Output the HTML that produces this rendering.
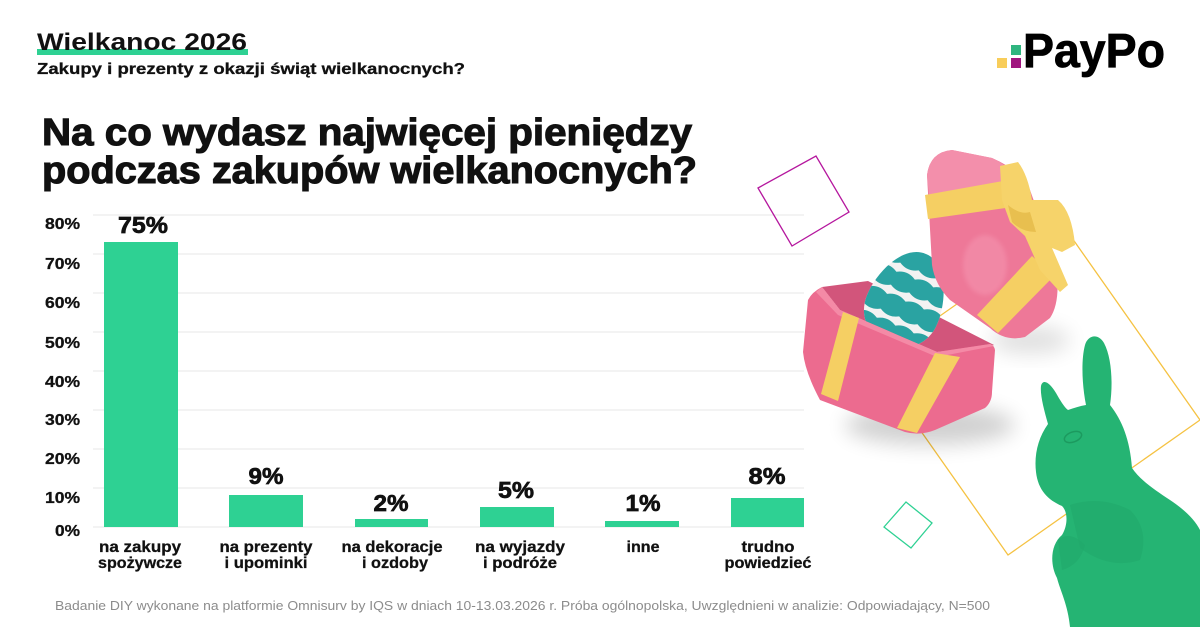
<!DOCTYPE html>
<html>
<head>
<meta charset="utf-8">
<style>
  html,body{margin:0;padding:0;background:#fff;}
  svg{display:block;}
  text{font-family:"Liberation Sans", sans-serif;}
</style>
</head>
<body>
<svg width="1200" height="627" viewBox="0 0 1200 627" xmlns="http://www.w3.org/2000/svg">
  <defs>
    <filter id="blur" x="-50%" y="-50%" width="200%" height="200%"><feGaussianBlur stdDeviation="10"/></filter>
    <filter id="blur2" x="-50%" y="-50%" width="200%" height="200%"><feGaussianBlur stdDeviation="2"/></filter>
    <clipPath id="eggclip"><path d="M0,-48 C24,-48 38,-12 38,12 C38,36 20,50 0,50 C-20,50 -38,36 -38,12 C-38,-12 -24,-48 0,-48 Z"/></clipPath>
  </defs>
  <rect width="1200" height="627" fill="#fff"/>

  <!-- Header -->
  <rect x="37" y="49" width="211" height="6" fill="#2ed193"/>
  <text x="37" y="50" font-size="24" font-weight="bold" fill="#111" textLength="210" lengthAdjust="spacingAndGlyphs">Wielkanoc 2026</text>
  <text x="37" y="74" font-size="16" font-weight="bold" fill="#111" stroke="#111" stroke-width="0.3" textLength="428" lengthAdjust="spacingAndGlyphs">Zakupy i prezenty z okazji świąt wielkanocnych?</text>

  <g font-size="38" font-weight="bold" fill="#111" stroke="#111" stroke-width="1.1">
    <text x="42" y="145" textLength="650" lengthAdjust="spacingAndGlyphs">Na co wydasz najwięcej pieniędzy</text>
    <text x="42" y="183" textLength="655" lengthAdjust="spacingAndGlyphs">podczas zakupów wielkanocnych?</text>
  </g>

  <!-- Logo -->
  <rect x="1011" y="45" width="10" height="10" fill="#2fb57f"/>
  <rect x="997" y="58" width="10" height="10" fill="#f8cd5a"/>
  <rect x="1011" y="58" width="10" height="10" fill="#a0157f"/>
  <text x="1023" y="67" font-size="48" font-weight="bold" fill="#000" stroke="#000" stroke-width="0.8" textLength="142" lengthAdjust="spacingAndGlyphs">PayPo</text>

  <!-- Gridlines -->
  <g stroke="#ececec" stroke-width="1.2">
    <line x1="93" y1="215" x2="804" y2="215"/>
    <line x1="93" y1="254" x2="804" y2="254"/>
    <line x1="93" y1="293" x2="804" y2="293"/>
    <line x1="93" y1="332" x2="804" y2="332"/>
    <line x1="93" y1="371" x2="804" y2="371"/>
    <line x1="93" y1="410" x2="804" y2="410"/>
    <line x1="93" y1="449" x2="804" y2="449"/>
    <line x1="93" y1="488" x2="804" y2="488"/>
    <line x1="93" y1="527" x2="804" y2="527"/>
  </g>

  <!-- Y tick labels -->
  <g font-size="16" font-weight="bold" fill="#111" stroke="#111" stroke-width="0.3" text-anchor="end">
    <text x="80" y="229" textLength="35" lengthAdjust="spacingAndGlyphs">80%</text>
    <text x="80" y="269" textLength="35" lengthAdjust="spacingAndGlyphs">70%</text>
    <text x="80" y="308" textLength="35" lengthAdjust="spacingAndGlyphs">60%</text>
    <text x="80" y="348" textLength="35" lengthAdjust="spacingAndGlyphs">50%</text>
    <text x="80" y="387" textLength="35" lengthAdjust="spacingAndGlyphs">40%</text>
    <text x="80" y="425" textLength="35" lengthAdjust="spacingAndGlyphs">30%</text>
    <text x="80" y="464" textLength="35" lengthAdjust="spacingAndGlyphs">20%</text>
    <text x="80" y="503" textLength="35" lengthAdjust="spacingAndGlyphs">10%</text>
    <text x="80" y="536" textLength="25" lengthAdjust="spacingAndGlyphs">0%</text>
  </g>

  <!-- Bars -->
  <g fill="#2ed193">
    <rect x="104" y="242" width="74" height="285"/>
    <rect x="229" y="495" width="74" height="32"/>
    <rect x="355" y="519" width="73" height="8"/>
    <rect x="480" y="507" width="74" height="20"/>
    <rect x="605" y="521" width="74" height="6"/>
    <rect x="731" y="498" width="73" height="29"/>
  </g>

  <!-- Value labels -->
  <g font-size="23" font-weight="bold" fill="#111" stroke="#111" stroke-width="0.7" text-anchor="middle">
    <text x="143" y="233" textLength="50" lengthAdjust="spacingAndGlyphs">75%</text>
    <text x="266" y="484" textLength="35" lengthAdjust="spacingAndGlyphs">9%</text>
    <text x="391" y="511" textLength="35" lengthAdjust="spacingAndGlyphs">2%</text>
    <text x="516" y="498" textLength="36" lengthAdjust="spacingAndGlyphs">5%</text>
    <text x="643" y="511" textLength="35" lengthAdjust="spacingAndGlyphs">1%</text>
    <text x="767" y="484" textLength="37" lengthAdjust="spacingAndGlyphs">8%</text>
  </g>

  <!-- Category labels -->
  <g font-size="16" font-weight="bold" fill="#111" stroke="#111" stroke-width="0.3" text-anchor="middle">
    <text x="140" y="552" textLength="82" lengthAdjust="spacingAndGlyphs">na zakupy</text>
    <text x="140" y="568" textLength="84" lengthAdjust="spacingAndGlyphs">spożywcze</text>
    <text x="266" y="552" textLength="93" lengthAdjust="spacingAndGlyphs">na prezenty</text>
    <text x="266" y="568" textLength="83" lengthAdjust="spacingAndGlyphs">i upominki</text>
    <text x="392" y="552" textLength="101" lengthAdjust="spacingAndGlyphs">na dekoracje</text>
    <text x="395" y="568" textLength="66" lengthAdjust="spacingAndGlyphs">i ozdoby</text>
    <text x="520" y="552" textLength="90" lengthAdjust="spacingAndGlyphs">na wyjazdy</text>
    <text x="520" y="568" textLength="74" lengthAdjust="spacingAndGlyphs">i podróże</text>
    <text x="643" y="552" textLength="33" lengthAdjust="spacingAndGlyphs">inne</text>
    <text x="768" y="552" textLength="53" lengthAdjust="spacingAndGlyphs">trudno</text>
    <text x="768" y="568" textLength="87" lengthAdjust="spacingAndGlyphs">powiedzieć</text>
  </g>

  <!-- Footer -->
  <text x="55" y="610" font-size="13" fill="#8c8c8c" textLength="935" lengthAdjust="spacingAndGlyphs">Badanie DIY wykonane na platformie Omnisurv by IQS w dniach 10-13.03.2026 r.  Próba ogólnopolska, Uwzględnieni w analizie: Odpowiadający, N=500</text>

  <!-- Decorative outlines -->
  <polygon points="758,188 816,156 849,212 792,246" fill="none" stroke="#b5179e" stroke-width="1.3"/>
  <polygon points="873,363 1065,228 1200,420 1008,555" fill="none" stroke="#f5c242" stroke-width="1.3"/>
  <polygon points="884,527 906,502 932,523 911,548" fill="none" stroke="#2ed193" stroke-width="1.3"/>

  <!-- Gift shadow -->
  <ellipse cx="930" cy="425" rx="85" ry="20" fill="#000" opacity="0.18" filter="url(#blur)"/>
  <ellipse cx="1030" cy="340" rx="40" ry="14" fill="#000" opacity="0.12" filter="url(#blur)"/>

  <!-- Box opening (inner) -->
  <polygon points="822,287 868,281 994,345 937,352 840,310" fill="#d2557b"/>

  <!-- Egg -->
  <g transform="translate(907,298) rotate(23)">
    <g clip-path="url(#eggclip)">
      <rect x="-40" y="-50" width="80" height="102" fill="#f2f2f2"/>
      <path d="M-40,-50 L40,-50 L40,-30 Q30,-24 20,-30 Q10,-24 0,-30 Q-10,-24 -20,-30 Q-30,-24 -40,-30 Z" fill="#2aa3a2"/>
      <path d="M-40,-20 Q-30,-26 -20,-20 Q-10,-26 0,-20 Q10,-26 20,-20 Q30,-26 40,-20 L40,-6 Q30,0 20,-6 Q10,0 0,-6 Q-10,0 -20,-6 Q-30,0 -40,-6 Z" fill="#2aa3a2"/>
      <path d="M-40,4 Q-30,-2 -20,4 Q-10,-2 0,4 Q10,-2 20,4 Q30,-2 40,4 L40,20 Q30,26 20,20 Q10,26 0,20 Q-10,26 -20,20 Q-30,26 -40,20 Z" fill="#2aa3a2"/>
      <path d="M-40,30 Q-30,24 -20,30 Q-10,24 0,30 Q10,24 20,30 Q30,24 40,30 L40,52 L-40,52 Z" fill="#2aa3a2"/>
    </g>
  </g>

  <!-- Box front -->
  <path d="M822,287 Q812,292 808,300 L803,352 Q805,372 820,400 L905,432 Q920,436 935,430 L985,408 Q992,402 992,392 L995,350 Q994,345 990,344 L937,352 L840,310 Z" fill="#ec6b8f"/>
  <path d="M822,287 L840,310 L937,352 L990,344 L994,346 L937,357 L838,315 L816,292 Z" fill="#f48aa6"/>
  <!-- Box ribbons -->
  <polygon points="843,312 859,318 838,401 821,394" fill="#f5cf63"/>
  <polygon points="935,353 960,357 917,433 897,428" fill="#f5cf63"/>

  <!-- Lid -->
  <path d="M927,175 Q930,152 952,150 L992,158 Q1020,170 1030,190 L1055,260 Q1062,300 1050,318 L1025,337 Q1005,342 990,328 L950,300 Q935,285 932,265 Z" fill="#ee7898"/>
  <path d="M927,175 Q930,152 952,150 L992,158 Q1010,166 1015,180 L930,205 Z" fill="#f38fab"/>
  <ellipse cx="985" cy="265" rx="22" ry="30" fill="#f598b2" opacity="0.5" filter="url(#blur2)"/>
  <!-- Lid ribbons -->
  <polygon points="925,195 1003,181 1020,206 928,219" fill="#f5cf63"/>
  <polygon points="1032,256 1054,276 998,333 977,315" fill="#f5cf63"/>
  <!-- Bow -->
  <path d="M1000,166 L1018,162 Q1028,175 1032,200 L1058,200 Q1072,212 1075,245 L1062,252 L1052,248 L1068,285 L1060,292 L1040,270 L1025,236 L1010,222 L1002,200 Z" fill="#f6d36a"/>
  <path d="M1008,205 Q1020,215 1030,212 L1036,232 Q1022,232 1012,222 Z" fill="#e8bf4f"/>

  <!-- Bunny -->
  <path d="M1070,627 C1068,605 1060,590 1057,578 C1050,565 1050,545 1062,535 C1068,525 1068,512 1062,506 C1048,500 1038,490 1036,472 C1034,455 1038,438 1048,424 C1044,410 1040,395 1041,386 C1043,378 1050,383 1056,393 C1060,400 1064,407 1068,410 C1074,408 1080,406 1086,405 C1082,385 1081,360 1085,345 C1088,335 1098,333 1104,343 C1112,358 1113,385 1110,405 C1122,420 1130,440 1132,468 C1140,480 1155,490 1170,500 C1185,510 1195,520 1200,530 L1200,627 Z" fill="#25b473"/>
  <ellipse cx="1073" cy="437" rx="9" ry="5" fill="none" stroke="#1c9a5f" stroke-width="1.5" transform="rotate(-20 1073 437)"/>
  <path d="M1070,505 Q1100,495 1130,510 Q1150,530 1140,560 Q1110,570 1080,548 Z" fill="#22a96b" opacity="0.6"/>
  <path d="M1058,540 Q1070,530 1085,545 Q1080,565 1062,570 Z" fill="#22a96b" opacity="0.6"/>
</svg>
</body>
</html>
